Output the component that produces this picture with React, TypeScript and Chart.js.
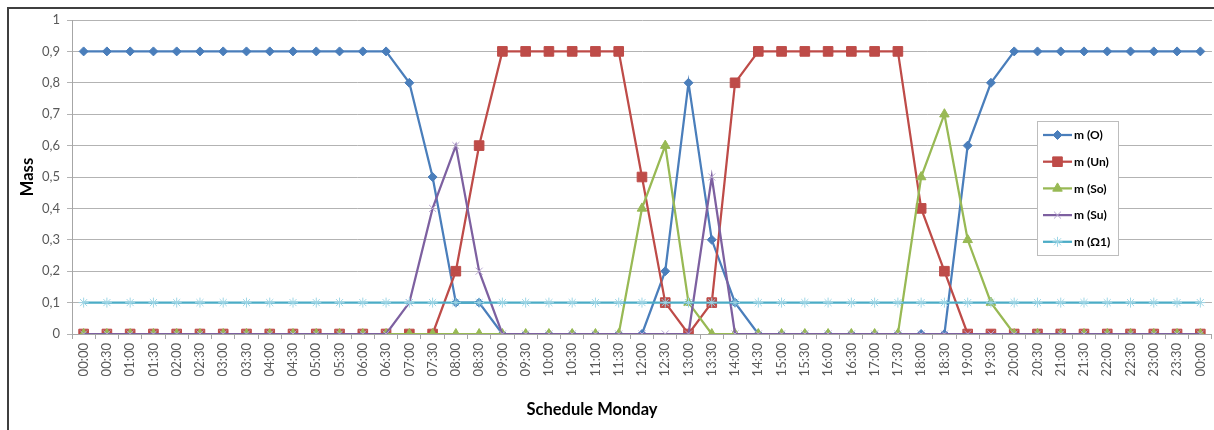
import { useEffect, useRef } from 'react';
import { Chart, registerables } from 'chart.js';
import { drawPoint } from 'chart.js/helpers';

Chart.register(...registerables);

const timeLabels = [
  '00:00', '00:30', '01:00', '01:30', '02:00', '02:30', '03:00', '03:30', '04:00', '04:30',
  '05:00', '05:30', '06:00', '06:30', '07:00', '07:30', '08:00', '08:30', '09:00', '09:30',
  '10:00', '10:30', '11:00', '11:30', '12:00', '12:30', '13:00', '13:30', '14:00', '14:30',
  '15:00', '15:30', '16:00', '16:30', '17:00', '17:30', '18:00', '18:30', '19:00', '19:30',
  '20:00', '20:30', '21:00', '21:30', '22:00', '22:30', '23:00', '23:30', '00:00',
];

const yTickLabels = ['0', '0,1', '0,2', '0,3', '0,4', '0,5', '0,6', '0,7', '0,8', '0,9', '1'];

const seriesNames = ['m (O)', 'm (Un)', 'm (So)', 'm (Su)', 'm (Ω1)'];

const massO = [
  0.9, 0.9, 0.9, 0.9, 0.9, 0.9, 0.9, 0.9, 0.9, 0.9, 0.9, 0.9, 0.9, 0.9,
  0.8, 0.5, 0.1, 0.1,
  0, 0, 0, 0, 0, 0, 0,
  0.2, 0.8, 0.3, 0.1,
  0, 0, 0, 0, 0, 0, 0, 0, 0,
  0.6, 0.8,
  0.9, 0.9, 0.9, 0.9, 0.9, 0.9, 0.9, 0.9, 0.9,
];

const massUn = [
  0, 0, 0, 0, 0, 0, 0, 0, 0, 0, 0, 0, 0, 0, 0, 0,
  0.2, 0.6,
  0.9, 0.9, 0.9, 0.9, 0.9, 0.9,
  0.5, 0.1, 0, 0.1, 0.8,
  0.9, 0.9, 0.9, 0.9, 0.9, 0.9, 0.9,
  0.4, 0.2,
  0, 0, 0, 0, 0, 0, 0, 0, 0, 0, 0,
];

const massSo = [
  0, 0, 0, 0, 0, 0, 0, 0, 0, 0, 0, 0, 0, 0, 0, 0, 0, 0, 0, 0, 0, 0, 0, 0,
  0.4, 0.6, 0.1,
  0, 0, 0, 0, 0, 0, 0, 0, 0,
  0.5, 0.7, 0.3, 0.1,
  0, 0, 0, 0, 0, 0, 0, 0, 0,
];

const massSu = [
  0, 0, 0, 0, 0, 0, 0, 0, 0, 0, 0, 0, 0, 0,
  0.1, 0.4, 0.6, 0.2,
  0, 0, 0, 0, 0, 0, 0, 0, 0,
  0.5,
  0, 0, 0, 0, 0, 0, 0, 0, 0, 0, 0, 0, 0, 0, 0, 0, 0, 0, 0, 0, 0,
];

const massOmega1 = [
  0.1, 0.1, 0.1, 0.1, 0.1, 0.1, 0.1, 0.1, 0.1, 0.1,
  0.1, 0.1, 0.1, 0.1, 0.1, 0.1, 0.1, 0.1, 0.1, 0.1,
  0.1, 0.1, 0.1, 0.1, 0.1, 0.1, 0.1, 0.1, 0.1, 0.1,
  0.1, 0.1, 0.1, 0.1, 0.1, 0.1, 0.1, 0.1, 0.1, 0.1,
  0.1, 0.1, 0.1, 0.1, 0.1, 0.1, 0.1, 0.1, 0.1,
];

const FONT = 'Lato, "Open Sans", sans-serif';

const legendPlugin = {
  id: 'boxLegend',
  afterDraw(chart: any) {
    const ctx = chart.ctx as CanvasRenderingContext2D;
    ctx.save();
    const x0 = 1037;
    const y0 = 121;
    const w = 81;
    const h = 134;
    ctx.fillStyle = '#ffffff';
    ctx.fillRect(x0, y0, w, h);
    ctx.strokeStyle = '#bdbdbd';
    ctx.lineWidth = 1;
    ctx.strokeRect(x0 + 0.5, y0 + 0.5, w, h);
    chart.data.datasets.forEach((ds: any, i: number) => {
      const y = 135 + i * 26.7;
      ctx.strokeStyle = ds.borderColor;
      ctx.lineWidth = 2.25;
      ctx.beginPath();
      ctx.moveTo(1043, y);
      ctx.lineTo(1072, y);
      ctx.stroke();
      ctx.fillStyle = ds.pointBackgroundColor;
      ctx.strokeStyle = ds.pointBorderColor;
      ctx.lineWidth = ds.pointBorderWidth;
      drawPoint(ctx, { pointStyle: ds.pointStyle, radius: ds.pointRadius, borderWidth: ds.pointBorderWidth, rotation: 0 } as any, 1057.5, y);
      ctx.fillStyle = '#000000';
      ctx.font = `bold 12px ${FONT}`;
      ctx.textBaseline = 'middle';
      ctx.textAlign = 'left';
      ctx.fillText(ds.label, 1074, y + 0.5);
    });
    ctx.restore();
  },
};

const xTitlePlugin = {
  id: 'xTitle',
  afterDraw(chart: any) {
    const ctx = chart.ctx as CanvasRenderingContext2D;
    ctx.save();
    ctx.fillStyle = '#000000';
    ctx.font = `bold 16.5px ${FONT}`;
    ctx.textAlign = 'center';
    ctx.textBaseline = 'middle';
    ctx.fillText('Schedule Monday', 592, 410);
    ctx.restore();
  },
};

function lineDataset(label: string, data: number[], color: string, markerFill: string, markerBorder: string, style: string, radius: number, order: number) {
  return {
    label,
    data,
    borderColor: color,
    backgroundColor: color,
    borderWidth: 2.25,
    pointStyle: style,
    pointRadius: radius,
    pointHoverRadius: radius,
    pointBackgroundColor: markerFill,
    pointBorderColor: markerBorder,
    pointBorderWidth: 1,
    tension: 0,
    fill: false,
    order,
  };
}

const CANVAS_W = 1220;

export default function App() {
  const ref = useRef<HTMLCanvasElement>(null);

  useEffect(() => {
    if (!ref.current) return;
    Chart.defaults.font.family = FONT;
    const chart = new Chart(ref.current, {
      type: 'line',
      data: {
        labels: timeLabels,
        datasets: [
          lineDataset(seriesNames[0], massO, '#4A7EBB', '#4A7EBB', '#4A7EBB', 'rectRot', 4.5, 5),
          lineDataset(seriesNames[1], massUn, '#BE4B48', '#BE4B48', '#BE4B48', 'rect', 6.8, 4),
          lineDataset(seriesNames[2], massSo, '#98B954', '#98B954', '#98B954', 'triangle', 5.5, 3),
          lineDataset(seriesNames[3], massSu, '#7D60A0', '#B9A9D2', '#B9A9D2', 'crossRot', 5, 2),
          lineDataset(seriesNames[4], massOmega1, '#4BACC6', '#9ED6E6', '#9ED6E6', 'star', 5, 1),
        ] as any,
      },
      options: {
        responsive: false,
        animation: false,
        devicePixelRatio: 1,
        layout: { padding: { top: 20, right: 0, left: 0, bottom: 0 } },
        plugins: {
          legend: { display: false },
          tooltip: { enabled: false },
        },
        scales: {
          x: {
            offset: true,
            ticks: {
              autoSkip: false,
              maxRotation: 90,
              minRotation: 90,
              color: '#595959',
              font: { family: FONT, size: 13 },
              padding: 4,
            },
            grid: {
              offset: true,
              drawOnChartArea: false,
              drawTicks: true,
              tickLength: 5,
              color: '#a6a6a6',
            },
            border: { color: '#a6a6a6', width: 1 },
            afterFit: (s: any) => {
              s.height = 96;
            },
          },
          y: {
            min: 0,
            max: 1,
            ticks: {
              stepSize: 0.1,
              color: '#595959',
              font: { family: FONT, size: 13 },
              padding: 7,
              callback: (_v: any, i: number) => yTickLabels[i],
            },
            grid: { color: '#b3b3b3', tickLength: 5, lineWidth: 1 },
            border: { color: '#a6a6a6', width: 1 },
            title: {
              display: true,
              text: 'Mass',
              color: '#000000',
              font: { family: FONT, size: 16.5, weight: 'bold' },
              padding: { top: 18, bottom: 0 },
            },
            afterFit: (s: any) => {
              s.width = 72;
            },
          },
        },
      } as any,
      plugins: [legendPlugin, xTitlePlugin],
    });
    return () => chart.destroy();
  }, []);

  return (
    <div style={{ position: 'fixed', left: 0, top: 0, width: 1214, height: 430, overflow: 'hidden', background: '#ffffff' }}>
      <canvas ref={ref} width={CANVAS_W} height={430} style={{ position: 'absolute', left: 0, top: 0, width: CANVAS_W, height: 430 }} />
      <div
        style={{
          position: 'absolute',
          left: 7,
          top: 7,
          width: 1240,
          height: 460,
          border: '2px solid #3f3f3f',
          boxSizing: 'border-box',
          pointerEvents: 'none',
        }}
      />
    </div>
  );
}
